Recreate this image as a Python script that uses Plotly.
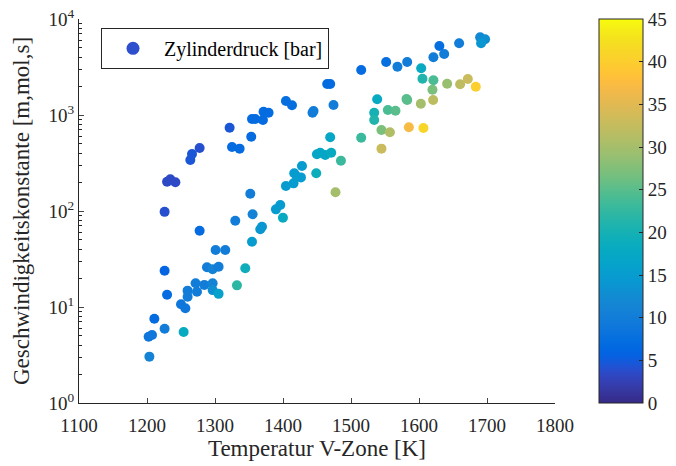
import plotly.graph_objects as go

# Temperatur V-Zone [K]
temperature = [1229.5, 1234.3, 1241.7, 1225.9, 1263.7, 1266.2, 1277.4, 1321.5, 1325.0, 1336.2,
               1353.3, 1354.4, 1359.2, 1371.4, 1378.8, 1370.5, 1404.3, 1413.2, 1444.9, 1443.4,
               1465.0, 1469.4, 1474.3, 1515.0, 1551.7, 1568.3, 1582.6, 1621.2, 1637.0, 1630.0,
               1659.0, 1689.9, 1697.2, 1691.3, 1203.5, 1202.4, 1207.4, 1210.8, 1225.9, 1229.5,
               1225.9, 1277.4, 1250.0, 1256.4, 1253.9, 1259.7, 1259.7, 1271.5, 1273.5, 1284.3,
               1296.5, 1296.5, 1305.3, 1288.2, 1296.5, 1305.3, 1300.9, 1315.1, 1332.3, 1344.5,
               1329.8, 1351.9, 1355.3, 1354.4, 1369.1, 1366.6, 1389.6, 1396.0, 1399.9, 1404.3,
               1415.5, 1416.5, 1420.5, 1426.4, 1427.9, 1448.9, 1454.7, 1449.9, 1462.1, 1470.9,
               1469.4, 1485.2, 1477.2, 1515.0, 1534.1, 1534.1, 1538.5, 1544.8, 1557.2, 1544.8,
               1554.2, 1565.4, 1581.6, 1582.6, 1585.1, 1606.5, 1602.7, 1620.8, 1603.2, 1605.1,
               1621.2, 1619.8, 1641.4, 1660.5, 1671.8, 1683.5]

# Geschwindigkeitskonstante [m,mol,s]
rate_constant = [202, 214, 199, 98, 340, 392, 453, 738, 464, 446,
                 594, 908, 908, 1082, 1057, 887, 1400, 1262, 1101, 1057,
                 2104, 2104, 1271, 2943, 3565, 3186, 3565, 3990, 4315, 5230,
                 5590, 6440, 6150, 5590, 3.04, 4.9, 5.1, 7.55, 5.94, 13.4,
                 23.9, 62.3, 10.7, 9.7, 5.49, 14.8, 12.8, 17.7, 14.4, 17.0,
                 17.7, 15.0, 13.7, 25.9, 24.7, 26.3, 39.2, 39.2, 16.8, 25.3,
                 79.3, 151, 92.4, 47.9, 68.6, 64.5, 104, 115.5, 85.2, 182,
                 194, 247, 228, 224, 294, 247, 405, 390, 383, 405,
                 586, 334, 157, 580, 1057, 887, 1458, 698, 661, 446,
                 1127, 1109, 1468, 1432, 744, 732, 1312, 1432, 3063, 2390,
                 2297, 1835, 2118, 2089, 2372, 1972]

# Zylinderdruck [bar]
pressure = [3.5, 3.5, 3.5, 4, 4.5, 4.5, 4, 4.5, 7, 7,
            7, 7, 7, 7, 7, 7, 7.5, 7.5, 10, 10,
            7, 7, 10, 7, 7.5, 10, 10, 10, 10, 7.5,
            10, 12, 13, 14, 11, 9, 9, 7, 10, 7,
            6, 7, 9, 9, 18, 10, 10, 10, 10, 10,
            11, 13, 16, 10, 11, 10, 10, 10, 22, 19,
            10, 10, 11, 15, 14, 14, 15, 15, 18, 15,
            15, 15, 15, 15, 15, 19, 17, 17, 17, 18,
            17, 23, 30, 23, 20, 21, 18, 27, 31, 33,
            24, 25, 25, 25, 37, 41, 30, 32, 18, 21,
            24, 27, 29, 32, 33, 40]

x_ticks = [1100, 1200, 1300, 1400, 1500, 1600, 1700, 1800]
y_tick_values = [1, 10, 100, 1000, 10000]
y_tick_labels = ["10<sup>0</sup>", "10<sup>1</sup>", "10<sup>2</sup>", "10<sup>3</sup>", "10<sup>4</sup>"]
cbar_ticks = [0, 5, 10, 15, 20, 25, 30, 35, 40, 45]

parula = [[0.2081, 0.1663, 0.5292], [0.2116, 0.1898, 0.5777], [0.2123, 0.2138, 0.6270], [0.2081, 0.2386, 0.6771],
          [0.1959, 0.2645, 0.7279], [0.1707, 0.2919, 0.7792], [0.1253, 0.3242, 0.8303], [0.0591, 0.3598, 0.8683],
          [0.0117, 0.3875, 0.8820], [0.0060, 0.4086, 0.8828], [0.0165, 0.4266, 0.8786], [0.0329, 0.4430, 0.8720],
          [0.0498, 0.4586, 0.8641], [0.0629, 0.4737, 0.8554], [0.0723, 0.4887, 0.8467], [0.0779, 0.5040, 0.8384],
          [0.0793, 0.5200, 0.8312], [0.0749, 0.5375, 0.8263], [0.0641, 0.5570, 0.8240], [0.0488, 0.5772, 0.8228],
          [0.0343, 0.5966, 0.8199], [0.0265, 0.6137, 0.8135], [0.0239, 0.6287, 0.8038], [0.0231, 0.6418, 0.7913],
          [0.0228, 0.6535, 0.7768], [0.0267, 0.6642, 0.7607], [0.0384, 0.6743, 0.7436], [0.0590, 0.6838, 0.7254],
          [0.0843, 0.6928, 0.7062], [0.1133, 0.7015, 0.6859], [0.1453, 0.7098, 0.6646], [0.1801, 0.7177, 0.6424],
          [0.2178, 0.7250, 0.6193], [0.2586, 0.7317, 0.5954], [0.3022, 0.7376, 0.5712], [0.3482, 0.7424, 0.5473],
          [0.3953, 0.7459, 0.5244], [0.4420, 0.7481, 0.5033], [0.4871, 0.7491, 0.4840], [0.5300, 0.7491, 0.4661],
          [0.5709, 0.7485, 0.4494], [0.6099, 0.7473, 0.4337], [0.6473, 0.7456, 0.4188], [0.6834, 0.7435, 0.4044],
          [0.7184, 0.7411, 0.3905], [0.7525, 0.7384, 0.3768], [0.7858, 0.7356, 0.3633], [0.8185, 0.7327, 0.3498],
          [0.8507, 0.7299, 0.3360], [0.8824, 0.7274, 0.3217], [0.9139, 0.7258, 0.3063], [0.9450, 0.7261, 0.2886],
          [0.9739, 0.7314, 0.2666], [0.9938, 0.7455, 0.2403], [0.9990, 0.7653, 0.2164], [0.9955, 0.7861, 0.1967],
          [0.9880, 0.8066, 0.1794], [0.9789, 0.8271, 0.1633], [0.9697, 0.8481, 0.1475], [0.9626, 0.8705, 0.1309],
          [0.9589, 0.8949, 0.1132], [0.9598, 0.9218, 0.0948], [0.9661, 0.9514, 0.0755], [0.9763, 0.9831, 0.0538]]
n = len(parula)
colorscale = [[i / (n - 1), "rgb(%d,%d,%d)" % tuple(round(c * 255) for c in rgb)] for i, rgb in enumerate(parula)]

FONT = "Liberation Serif, Times New Roman, serif"
AX = "rgb(38,38,38)"

L, R, T, B = 79, 121, 19, 63
W, H = 676, 466
plot_w = W - L - R
cbar_left_px = 599
legend_left_px = 101

fig = go.Figure()
fig.add_trace(go.Scatter(
    x=temperature, y=rate_constant, mode="markers", showlegend=False,
    marker=dict(size=10, color=pressure, colorscale=colorscale, cmin=0, cmax=45,
                line=dict(width=0),
                colorbar=dict(x=(cbar_left_px - L) / plot_w, xanchor="left", xpad=0, ypad=0,
                              y=0.5, yanchor="middle",
                              len=1, lenmode="fraction", thickness=44, thicknessmode="pixels",
                              outlinewidth=1, outlinecolor=AX, tickvals=cbar_ticks,
                              ticks="inside", ticklen=4, tickcolor=AX,
                              tickfont=dict(family=FONT, size=19, color=AX)))))
fig.add_trace(go.Scatter(
    x=[None], y=[None], mode="markers", name="Zylinderdruck [bar]",
    marker=dict(size=13, color="rgb(45,78,205)")))

fig.update_layout(
    width=W, height=H, margin=dict(l=L, r=R, t=T, b=B, autoexpand=False),
    paper_bgcolor="white", plot_bgcolor="white",
    font=dict(family=FONT, size=19, color=AX),
    legend=dict(x=(legend_left_px - L) / plot_w, y=0.977, xanchor="left", yanchor="top",
                bordercolor=AX, borderwidth=1, bgcolor="white", itemwidth=52,
                font=dict(family=FONT, size=20, color="black")),
    xaxis=dict(range=[1100, 1800], tickvals=x_ticks, ticks="inside", ticklen=5,
               showline=True, linecolor=AX, linewidth=1, showgrid=False, zeroline=False,
               automargin=False, ticklabelstandoff=5,
               title=dict(text="Temperatur V-Zone [K]", standoff=1),
               tickfont=dict(size=19)),
    yaxis=dict(type="log", range=[0, 4], tickvals=y_tick_values, ticktext=y_tick_labels,
               ticks="inside", ticklen=5, showline=True, linecolor=AX, linewidth=1,
               showgrid=False, zeroline=False, automargin=False,
               minor=dict(ticks="inside", ticklen=3, tickcolor=AX, dtick="D1", showgrid=False),
               title=dict(text="Geschwindigkeitskonstante [m,mol,s]", standoff=12),
               tickfont=dict(size=19)),
)

fig.write_html("out.html")
